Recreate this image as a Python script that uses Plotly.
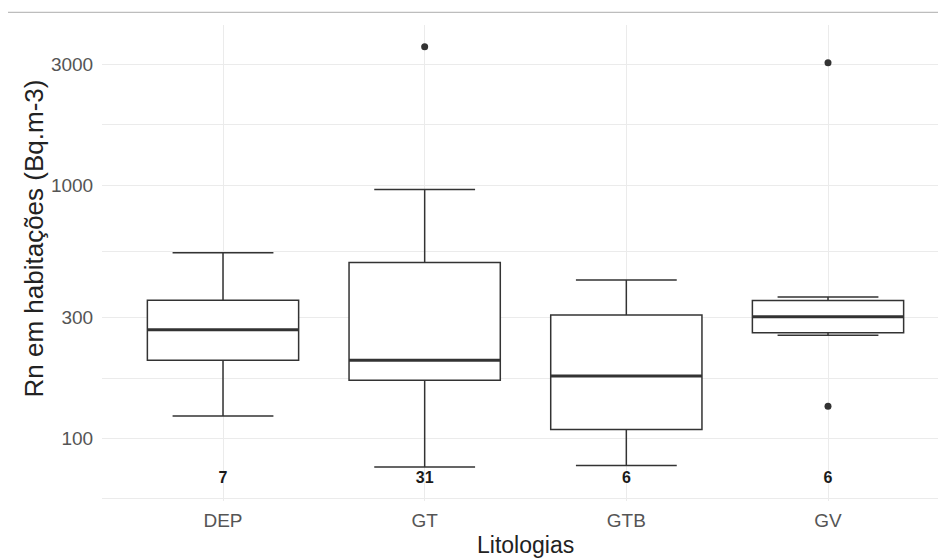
import numpy as np
import plotly.graph_objects as go

# ---- data ----
categories = ["DEP", "GT", "GTB", "GV"]
lower_whisker = [122.8, 77.2, 78.2, 256.0]
q1 = [204.0, 170.0, 108.7, 262.0]
median = [269.0, 204.0, 176.5, 303.0]
q3 = [352.0, 496.0, 307.6, 351.0]
upper_whisker = [542.0, 962.0, 422.6, 362.0]
outlier_cat = ["GT", "GV", "GV"]
outlier_val = [3530.0, 3050.0, 134.0]
n_obs = ["7", "31", "6", "6"]
label_level = 69.0
y_tick_vals = [100, 300, 1000, 3000]
y_tick_text = ["100", "300", "1000", "3000"]

FONT = "Liberation Sans, Arial, sans-serif"
LINE = "#333333"
GRID = "#EBEBEB"

W, H = 946, 558
ML, MR, MT, MB = 94, 5, 17, 65
PW, PH = W - ML - MR, H - MT - MB

xpos = list(range(len(categories)))
box_w = 0.75

fig = go.Figure()

fig.add_trace(go.Box(
    x=xpos, q1=q1, median=median, q3=q3,
    lowerfence=lower_whisker, upperfence=upper_whisker,
    width=box_w, whiskerwidth=0.5 / box_w,
    fillcolor="white", line=dict(color=LINE, width=1.5),
    boxpoints=False, showlegend=False, hoverinfo="skip",
))

# thicker median segments (ggplot fatten)
mx, my = [], []
for i, m in zip(xpos, median):
    mx += [i - box_w / 2, i + box_w / 2, None]
    my += [m, m, None]
fig.add_trace(go.Scatter(x=mx, y=my, mode="lines",
                         line=dict(color=LINE, width=3),
                         showlegend=False, hoverinfo="skip"))

# outliers
fig.add_trace(go.Scatter(
    x=[categories.index(c) for c in outlier_cat], y=outlier_val,
    mode="markers", marker=dict(color=LINE, size=7),
    showlegend=False, hoverinfo="skip"))

# counts
fig.add_trace(go.Scatter(
    x=xpos, y=[label_level] * len(xpos), text=n_obs, mode="text",
    textfont=dict(family=FONT, size=16, color="#1a1a1a", weight="bold"),
    showlegend=False, hoverinfo="skip"))

# y range: data extent with 5% expansion in log space
lo = np.log10(min(min(lower_whisker), min(outlier_val), label_level))
hi = np.log10(max(max(upper_whisker), max(outlier_val)))
pad = 0.05 * (hi - lo)
lmaj = np.log10(y_tick_vals)
step = lmaj[1] - lmaj[0]
ext = np.concatenate([[lmaj[0] - step], lmaj, [lmaj[-1] + step]])
minor_vals = list(10 ** ((ext[:-1] + ext[1:]) / 2))

line_y = 1 + (MT - 4.3) / PH

fig.update_layout(
    width=W, height=H,
    margin=dict(l=ML, r=MR, t=MT, b=MB),
    paper_bgcolor="white", plot_bgcolor="white",
    font=dict(family=FONT),
    xaxis=dict(
        range=[-0.6, 3.6], tickvals=xpos, ticktext=categories,
        showgrid=True, gridcolor=GRID, gridwidth=1.1, zeroline=False,
        showline=False, ticks="outside", ticklen=2, tickcolor="rgba(0,0,0,0)",
        tickfont=dict(family=FONT, size=19, color="#555555"),
    ),
    yaxis=dict(
        type="log", range=[lo - pad, hi + pad],
        tickvals=y_tick_vals, ticktext=y_tick_text,
        showgrid=True, gridcolor=GRID, gridwidth=1.1, zeroline=False,
        showline=False, ticks="outside", ticklen=4, tickcolor="rgba(0,0,0,0)",
        tickfont=dict(family=FONT, size=19, color="#555555"),
        minor=dict(tickvals=minor_vals, showgrid=True, gridcolor=GRID,
                   gridwidth=0.9, ticks=""),
    ),
    annotations=[
        dict(text="Litologias", xref="paper", yref="paper", x=0.5, y=0,
             xanchor="center", yanchor="top", yshift=-29, showarrow=False,
             font=dict(family=FONT, size=23, color="#222222")),
        dict(text="Rn em habitações (Bq.m-3)", xref="paper", yref="paper",
             x=(26 - ML) / PW, y=(MT + PH - 230.5) / PH, textangle=-90,
             xanchor="center", yanchor="middle", showarrow=False,
             font=dict(family=FONT, size=26, color="#222222")),
    ],
    shapes=[dict(type="line", xref="paper", yref="paper",
                 x0=-ML / PW, x1=(W - ML) / PW,
                 y0=line_y, y1=line_y,
                 line=dict(color="#BDBDBD", width=1.2))],
)

fig.write_html("out.html")
